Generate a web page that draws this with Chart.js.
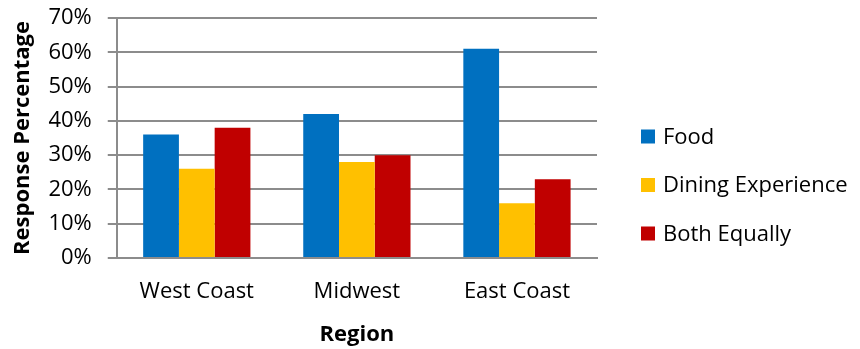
<!DOCTYPE html>
<html>
<head>
<meta charset="utf-8">
<script src="https://cdn.jsdelivr.net/npm/chart.js@4"></script>
<style>
  html, body { margin: 0; padding: 0; background: #fff; }
  #wrap { width: 860px; height: 349px; }
</style>
</head>
<body>
<div id="wrap"><canvas id="chart" width="860" height="349"></canvas></div>
<script>
const regions = ['West Coast', 'Midwest', 'East Coast'];
const food = [36, 42, 61];
const diningExperience = [26, 28, 16];
const bothEqually = [38, 30, 23];
const seriesNames = ['Food', 'Dining Experience', 'Both Equally'];
const seriesColors = ['#0070C0', '#FFC000', '#C00000'];

const FONT = "'Open Sans', sans-serif";
const gridGray = '#8C8C8C';

// legend drawn to the right of the plot, one row per dataset
const sideLegend = {
    id: 'sideLegend',
    afterDraw(c) {
        const g = c.ctx;
        const x = c.chartArea.right + 44;
        const rowGap = 48.5;
        const n = c.data.datasets.length;
        const y0 = (c.chartArea.top + c.chartArea.bottom) / 2 + 47 - rowGap * (n - 1) / 2;
        g.save();
        g.font = '22px ' + FONT;
        g.textBaseline = 'middle';
        c.data.datasets.forEach((ds, i) => {
            const y = y0 + i * rowGap;
            g.fillStyle = ds.backgroundColor;
            g.fillRect(x, y - 7, 14, 14);
            g.fillStyle = '#000';
            g.fillText(ds.label, x + 22, y + 1);
        });
        g.restore();
    }
};

const ctx = document.getElementById('chart').getContext('2d');
const chart = new Chart(ctx, {
    type: 'bar',
    data: {
        labels: regions,
        datasets: [food, diningExperience, bothEqually].map((vals, i) => ({
            label: seriesNames[i],
            data: vals,
            backgroundColor: seriesColors[i],
            borderWidth: 0,
            categoryPercentage: 0.67,
            barPercentage: 1
        }))
    },
    options: {
        responsive: false,
        animation: false,
        layout: { padding: { top: 0, left: 5, right: 263, bottom: 1 } },
        plugins: {
            tooltip: { enabled: false },
            legend: { display: false }
        },
        scales: {
            x: {
                grid: { display: false, drawTicks: false },
                border: { display: true, color: gridGray, width: 2 },
                ticks: { color: '#000', font: { family: FONT, size: 22 }, padding: 21 },
                title: {
                    display: true,
                    text: 'Region',
                    color: '#000',
                    font: { family: FONT, size: 22, weight: 'bold' },
                    padding: { top: 0, bottom: 0 }
                },
                afterFit(scale) { scale.height = 90; }
            },
            y: {
                min: 0,
                max: 70,
                ticks: {
                    stepSize: 10,
                    color: '#000',
                    font: { family: FONT, size: 22 },
                    padding: 16,
                    callback: v => v + '%'
                },
                grid: { color: gridGray, lineWidth: 2, tickLength: 9 },
                border: { display: true, color: gridGray, width: 2 },
                title: {
                    display: true,
                    text: 'Response Percentage',
                    color: '#000',
                    font: { family: FONT, size: 22, weight: 'bold' },
                    padding: { top: 5, bottom: -4 }
                },
                afterFit(scale) { scale.paddingTop = 18; scale.paddingBottom = 0; }
            }
        }
    },
    plugins: [sideLegend]
});
</script>
</body>
</html>
